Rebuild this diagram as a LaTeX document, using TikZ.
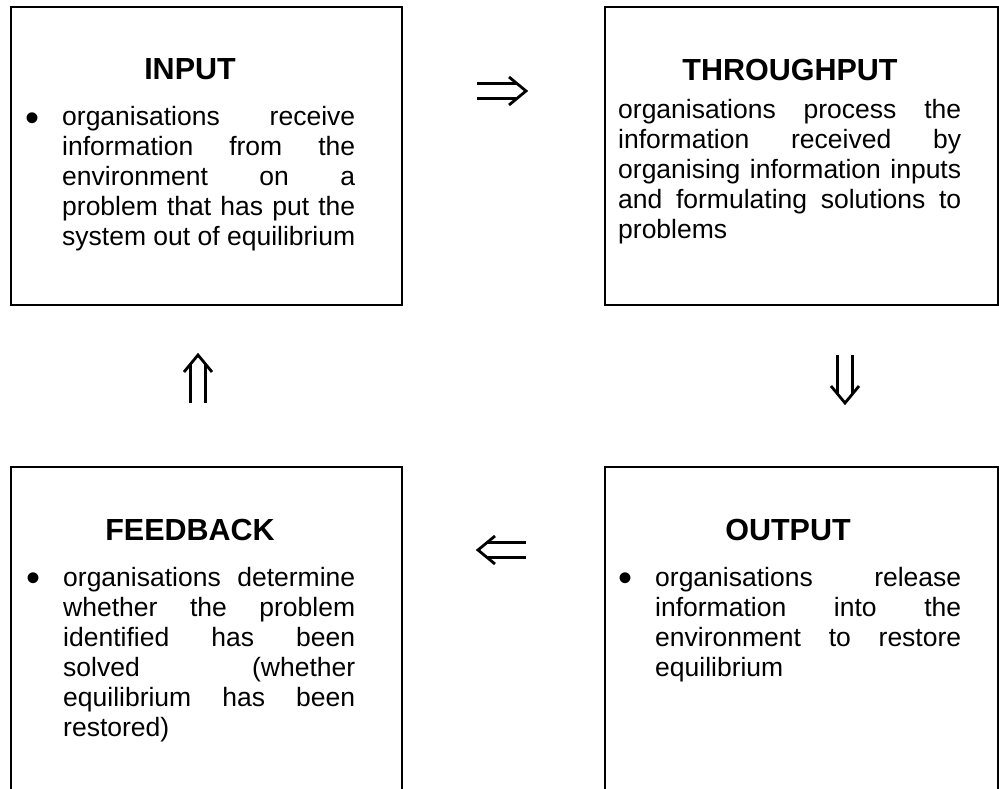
\documentclass[tikz,border=0pt]{standalone}
\usepackage{fontspec}
\setmainfont{Liberation Sans}
\usetikzlibrary{calc}
\tolerance=10000
\hyphenpenalty=10000

\tikzset{
  stage/.style={draw, line width=1.8pt, anchor=north west, inner sep=0pt},
  heading/.style={anchor=base, inner sep=0pt, font=\bfseries\fontsize{30.5}{36}\selectfont},
  body/.style={anchor=base west, inner sep=0pt, text width=#1, align=justify, font=\fontsize{26.5}{30}\selectfont},
  shaft/.style={double, double distance=12pt, line width=2.6pt, shorten >=9pt},
  chevron/.pic={\draw[line width=2.8pt, line join=miter] (-17,-14) -- (0,0) -- (-17,14);}
}
\newcommand{\stagebullet}{\llap{\raisebox{-5.8pt}{\fontsize{40}{40}\selectfont\textbullet}\hspace{23pt}}}

\begin{document}
\begin{tikzpicture}[x=1pt, y=-1pt]
    \useasboundingbox (0,0) rectangle (999,789);
    \clip (0,0) rectangle (999,789);
    \node[stage, minimum width=391pt, minimum height=298pt] (input) at (10,6) {};
    \node[stage, minimum width=393pt, minimum height=298pt] (through) at (604,6) {};
    \node[stage, minimum width=391pt, minimum height=340pt] (feedback) at (10,466) {};
    \node[stage, minimum width=393pt, minimum height=340pt] (output) at (604,466) {};
    \node[heading] (inputT) at (190,80) {INPUT};
    \node[heading] (throughT) at (790,81) {THROUGHPUT};
    \node[heading] (feedbackT) at (190,540) {FEEDBACK};
    \node[heading] (outputT) at (788,540) {OUTPUT};
    \node[body=293pt] (inputB) at (62,126) {\stagebullet organisations receive\linebreak information from the\linebreak environment on a\linebreak problem that has put the\linebreak system out of equilibrium};
    \node[body=343pt] (throughB) at (618,119) {organisations process the\linebreak information received by\linebreak organising information inputs\linebreak and formulating solutions to\linebreak problems};
    \node[body=292pt] (feedbackB) at (63,586) {\stagebullet organisations determine\linebreak whether the problem\linebreak identified has been\linebreak solved (whether\linebreak equilibrium has been\linebreak restored)};
    \node[body=306pt] (outputB) at (655,586) {\stagebullet organisations release\linebreak information into the\linebreak environment to restore\linebreak equilibrium};
    \coordinate (r1) at (477,91);
    \coordinate (r2) at (526,91);
    \coordinate (d1) at (845,355);
    \coordinate (d2) at (845,403);
    \coordinate (l1) at (526,550);
    \coordinate (l2) at (478,550);
    \coordinate (u1) at (198,403);
    \coordinate (u2) at (198,355);
    \draw[shaft] (r1) -- (r2);
    \draw[shaft] (d1) -- (d2);
    \draw[shaft] (l1) -- (l2);
    \draw[shaft] (u1) -- (u2);
    \pic at (r2) {chevron};
    \pic[rotate=-90] at (d2) {chevron};
    \pic[rotate=180] at (l2) {chevron};
    \pic[rotate=90] at (u2) {chevron};
\end{tikzpicture}
\end{document}
